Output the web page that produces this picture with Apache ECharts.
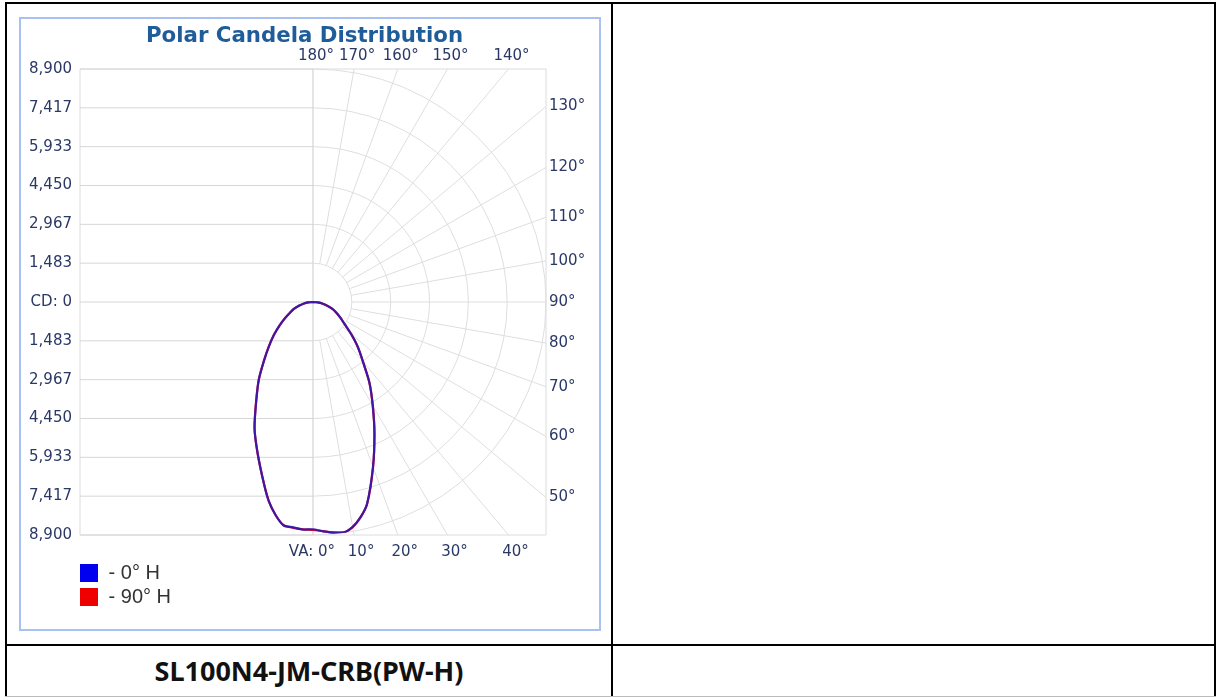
<!DOCTYPE html>
<html>
<head>
<meta charset="utf-8">
<title>Polar Candela Distribution</title>
<script src="https://cdn.jsdelivr.net/npm/echarts@6/dist/echarts.min.js"></script>
<style>
  html, body { margin: 0; padding: 0; background: #fff; }
  body { width: 1217px; height: 697px; position: relative; overflow: hidden; }
  .ln { position: absolute; background: #000; }
  #panel { position: absolute; left: 19px; top: 17px; width: 578px; height: 610px; border: 2px solid #a9c0f2; background: #fff; }
  #chart { width: 578px; height: 610px; }
  #model { position: absolute; left: 7px; top: 646px; width: 604px; height: 50px; line-height: 50px;
           text-align: center; font-family: "Noto Sans", sans-serif; font-weight: bold; font-size: 27px; color: #111; }
</style>
</head>
<body>
<!-- table borders -->
<div class="ln" style="left:5px;top:2px;width:1211px;height:2px"></div>
<div class="ln" style="left:5px;top:2px;width:2px;height:695px"></div>
<div class="ln" style="left:611px;top:2px;width:2px;height:695px"></div>
<div class="ln" style="left:1214px;top:2px;width:2px;height:695px"></div>
<div class="ln" style="left:5px;top:644px;width:1211px;height:2px"></div>
<div class="ln" style="left:5px;top:696px;width:1211px;height:1px;background:#bbb"></div>

<div id="panel"><div id="chart"></div></div>
<div id="model">SL100N4-JM-CRB(PW-H)</div>

<script>
// max candela (axis range)
const cdMax = 8900;
// left axis labels, top to bottom
const yTickLabels = ['8,900', '7,417', '5,933', '4,450', '2,967', '1,483', 'CD: 0',
                     '1,483', '2,967', '4,450', '5,933', '7,417', '8,900'];
// vertical angle labels around the frame
const angleTicks = [0, 10, 20, 30, 40, 50, 60, 70, 80, 90, 100, 110, 120, 130, 140, 150, 160, 170, 180];
const angleTickLabels = ['VA: 0°', '10°', '20°', '30°', '40°', '50°', '60°', '70°', '80°', '90°',
                         '100°', '110°', '120°', '130°', '140°', '150°', '160°', '170°', '180°'];
const spokeAngles = [10, 20, 30, 40, 50, 60, 70, 80, 90, 100, 110, 120, 130, 140, 150, 160, 170];

// measured curves: vertical angle (negative = left side) -> candela
const vAngles = [-90, -85, -80, -75, -70, -65, -60, -55, -50, -45, -40, -35, -30, -25, -20, -15, -12.5, -10, -7.5, -5, -2.5,
                 0, 2.5, 5, 7.5, 10, 12.5, 15, 20, 25, 30, 35, 40, 45, 50, 55, 60, 65, 70, 75, 80, 85, 90];
const cd0H = [0, 185, 370, 560, 780, 970, 1230, 1560, 1940, 2380, 2900, 3610, 4330, 5290, 6170, 7220, 7800, 8250, 8610, 8640, 8700,
              8680, 8770, 8830, 8880, 8720, 8420, 7980, 6700, 5560, 4560, 3760, 2960, 2420, 1900, 1480, 1210, 1000, 800, 570, 380, 190, 0];
const cd90H = [0, 180, 375, 555, 785, 965, 1240, 1550, 1950, 2370, 2910, 3600, 4340, 5280, 6180, 7210, 7790, 8260, 8600, 8660, 8690,
               8710, 8760, 8840, 8870, 8730, 8410, 7990, 6710, 5550, 4570, 3750, 2970, 2410, 1910, 1470, 1220, 990, 810, 565, 385, 185, 0];

const labelColor = '#2a3866';
const labelFont = 'DejaVu Sans';
const step = cdMax / 6;

function toPolar(vals) {
    return vAngles.map((a, i) => [vals[i], (a + 360) % 360]);
}

function renderHLine(params, api) {
    const v = api.value(0);
    const p1 = api.coord([-cdMax, v]);
    const p2 = api.coord([0, v]);
    return { type: 'line', shape: { x1: p1[0], y1: p1[1], x2: p2[0], y2: p2[1] },
             style: { stroke: '#d6d6d6', lineWidth: 1 } };
}

function renderVLine(params, api) {
    const p1 = api.coord([0, -cdMax]);
    const p2 = api.coord([0, cdMax]);
    return { type: 'line', shape: { x1: p1[0], y1: p1[1], x2: p2[0], y2: p2[1] },
             style: { stroke: '#cbcbcb', lineWidth: 1 } };
}

function renderRing(params, api) {
    const c = api.coord([0, 0]);
    const r = api.size([api.value(0), 0])[0];
    return { type: 'arc', shape: { cx: c[0], cy: c[1], r: r, startAngle: -Math.PI / 2, endAngle: Math.PI / 2, clockwise: true },
             style: { stroke: '#dedede', fill: null, lineWidth: 1 } };
}

// ray from the first ring out to the frame
function renderSpoke(params, api) {
    const phi = api.value(0) * Math.PI / 180;
    const s = Math.sin(phi), c = Math.cos(phi);
    const t = Math.min(cdMax / Math.abs(s), Math.abs(c) < 1e-9 ? Infinity : cdMax / Math.abs(c));
    const p1 = api.coord([step * s, -step * c]);
    const p2 = api.coord([t * s, -t * c]);
    return { type: 'line', shape: { x1: p1[0], y1: p1[1], x2: p2[0], y2: p2[1] },
             style: { stroke: '#dedede', lineWidth: 1 } };
}

function renderAngleLabel(params, api) {
    const a = api.value(0);
    const phi = a * Math.PI / 180;
    const s = Math.sin(phi), c = Math.cos(phi);
    const style = { text: angleTickLabels[params.dataIndex], fill: labelColor, fontSize: 15, fontFamily: labelFont,
                    align: 'center', verticalAlign: 'middle' };
    let x, y;
    if (Math.abs(c) >= Math.abs(s) && c > 0) {
        const p = api.coord([cdMax * s / c, -cdMax]);
        x = p[0] + 7; y = p[1] + 17;
        if (a === 0) { x = p[0] + 22; style.align = 'right'; }
    } else if (Math.abs(c) >= Math.abs(s)) {
        const p = api.coord([cdMax * s / -c, cdMax]);
        x = p[0] + 3; y = p[1] - 13;
    } else {
        const p = api.coord([cdMax, -cdMax * c / s]);
        x = p[0] + 3; y = p[1]; style.align = 'left';
    }
    return { type: 'text', x: x, y: y, style: style };
}

const chart = echarts.init(document.getElementById('chart'));
chart.setOption({
    animation: false,
    title: {
        text: 'Polar Candela Distribution',
        left: 125,
        top: 7,
        padding: 0,
        textStyle: { fontSize: 21.3, fontWeight: 'bold', color: '#1f5c9a', fontFamily: labelFont }
    },
    legend: {
        orient: 'vertical',
        left: 59,
        top: 544,
        padding: 0,
        icon: 'rect',
        itemWidth: 18,
        itemHeight: 18,
        itemGap: 4,
        selectedMode: false,
        formatter: ' - {name}',
        textStyle: { fontSize: 20, color: '#333', fontFamily: 'Liberation Sans' },
        data: [
            { name: '0° H', itemStyle: { color: '#0000ee', borderWidth: 0, opacity: 1 } },
            { name: '90° H', itemStyle: { color: '#ee0000', borderWidth: 0, opacity: 1 } }
        ]
    },
    grid: {
        left: 59, top: 50, width: 466, height: 466,
        show: true, borderColor: '#dcdcdc', borderWidth: 1
    },
    xAxis: { type: 'value', min: -cdMax, max: cdMax, show: false },
    yAxis: {
        type: 'value',
        min: -cdMax,
        max: cdMax,
        interval: step,
        axisLine: { show: false },
        axisTick: { show: false },
        splitLine: { show: false },
        axisLabel: {
            margin: 8,
            color: labelColor,
            fontSize: 15,
            fontFamily: labelFont,
            formatter: v => yTickLabels[Math.round((cdMax - v) / step)]
        }
    },
    polar: { center: [292, 283], radius: 233 },
    angleAxis: { type: 'value', min: 0, max: 360, startAngle: -90, clockwise: false, show: false },
    radiusAxis: { type: 'value', min: 0, max: cdMax, show: false },
    series: [
        { type: 'custom', name: 'hgrid', silent: true, z: 1, renderItem: renderHLine,
          data: yTickLabels.map((l, i) => [cdMax - i * step, 0]) },
        { type: 'custom', name: 'vgrid', silent: true, z: 1, renderItem: renderVLine, data: [[0, 0]] },
        { type: 'custom', name: 'rings', silent: true, z: 1, renderItem: renderRing,
          data: [1, 2, 3, 4, 5, 6].map(k => [k * step, 0]) },
        { type: 'custom', name: 'spokes', silent: true, z: 1, renderItem: renderSpoke,
          data: spokeAngles.map(a => [a, 0]) },
        { type: 'custom', name: 'angleLabels', silent: true, z: 1, renderItem: renderAngleLabel,
          data: angleTicks.map(a => [a, 0]) },
        {
            name: '0° H', type: 'line', coordinateSystem: 'polar', z: 4,
            symbol: 'none', smooth: 0.25,
            lineStyle: { color: '#2a1ab8', width: 2.2, opacity: 0.9 },
            itemStyle: { color: '#0000ee' },
            data: toPolar(cd0H)
        },
        {
            name: '90° H', type: 'line', coordinateSystem: 'polar', z: 3,
            symbol: 'none', smooth: 0.25,
            lineStyle: { color: '#ff0000', width: 2.2 },
            itemStyle: { color: '#ee0000' },
            data: toPolar(cd90H)
        }
    ]
});
</script>
</body>
</html>
